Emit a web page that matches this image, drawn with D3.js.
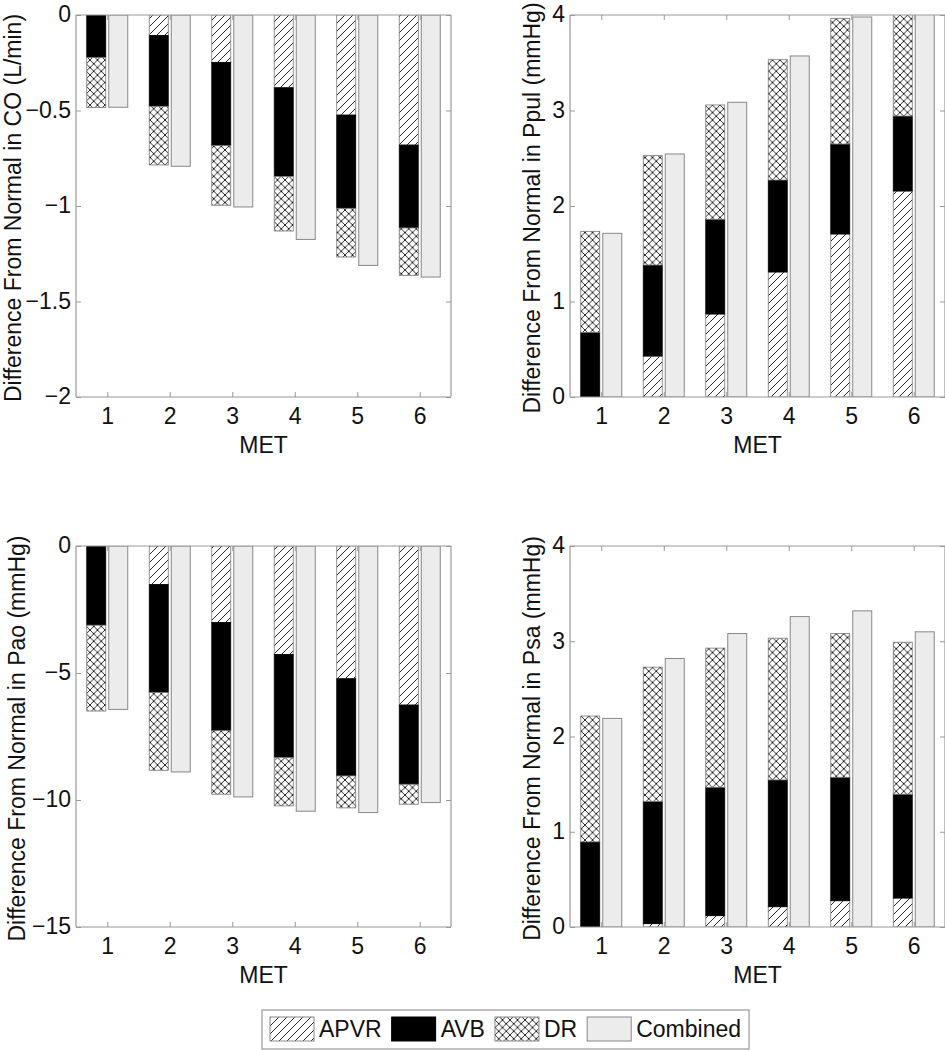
<!DOCTYPE html>
<html>
<head>
<meta charset="utf-8">
<script src="https://cdn.jsdelivr.net/npm/d3@7"></script>
<style>
  html, body { margin: 0; padding: 0; background: #fff; }
  svg { display: block; font-family: "Liberation Sans", Arial, Helvetica, sans-serif; }
</style>
</head>
<body>
<svg id="chart" width="945" height="1050"></svg>
<script>
// ---- Data ----
const categories = [1, 2, 3, 4, 5, 6];
const seriesNames = ["APVR", "AVB", "DR", "Combined"];

// CO (L/min)
const coAPVR = [0, -0.108, -0.248, -0.381, -0.524, -0.681];
const coAVB  = [-0.223, -0.370, -0.436, -0.464, -0.488, -0.434];
const coDR   = [-0.262, -0.307, -0.312, -0.286, -0.255, -0.248];
const coComb = [-0.483, -0.792, -1.005, -1.175, -1.311, -1.372];
const coTicks = [0, -0.5, -1, -1.5, -2];

// Ppul (mmHg)
const ppAPVR = [0, 0.429, 0.869, 1.309, 1.707, 2.157];
const ppAVB  = [0.677, 0.953, 0.992, 0.963, 0.942, 0.785];
const ppDR   = [1.058, 1.145, 1.197, 1.260, 1.316, 1.350];
const ppComb = [1.714, 2.545, 3.086, 3.571, 3.979, 4.330];
const ppTicks = [0, 1, 2, 3, 4];

// Pao (mmHg)
const paAPVR = [0, -1.520, -3.013, -4.271, -5.227, -6.262];
const paAVB  = [-3.118, -4.245, -4.258, -4.061, -3.826, -3.118];
const paDR   = [-3.380, -3.065, -2.502, -1.900, -1.258, -0.786];
const paComb = [-6.433, -8.896, -9.878, -10.441, -10.494, -10.101];
const paTicks = [0, -5, -10, -15];

// Psa (mmHg)
const psAPVR = [0, 0.035, 0.119, 0.213, 0.276, 0.304];
const psAVB  = [0.894, 1.282, 1.348, 1.331, 1.296, 1.090];
const psDR   = [1.321, 1.411, 1.461, 1.488, 1.509, 1.596];
const psComb = [2.190, 2.819, 3.081, 3.259, 3.319, 3.099];
const psTicks = [0, 1, 2, 3, 4];

const panels = [
  { label: "Difference From Normal in CO (L/min)", domain: [-2, 0], ticks: coTicks,
    apvr: coAPVR, avb: coAVB, dr: coDR, comb: coComb,
    left: 76, right: 451, top: 15, bottom: 397, labelX: 21 },
  { label: "Difference From Normal in Ppul (mmHg)", domain: [0, 4], ticks: ppTicks,
    apvr: ppAPVR, avb: ppAVB, dr: ppDR, comb: ppComb,
    left: 570, right: 945, top: 15, bottom: 397, labelX: 540 },
  { label: "Difference From Normal in Pao (mmHg)", domain: [-15, 0], ticks: paTicks,
    apvr: paAPVR, avb: paAVB, dr: paDR, comb: paComb,
    left: 76, right: 451, top: 546, bottom: 927, labelX: 25 },
  { label: "Difference From Normal in Psa (mmHg)", domain: [0, 4], ticks: psTicks,
    apvr: psAPVR, avb: psAVB, dr: psDR, comb: psComb,
    left: 570, right: 945, top: 546, bottom: 927, labelX: 540 }
];

const svg = d3.select("#chart");
const defs = svg.append("defs");

// hatch patterns
const diag = defs.append("pattern").attr("id", "diag")
  .attr("patternUnits", "userSpaceOnUse").attr("width", 8).attr("height", 8);
diag.append("rect").attr("width", 8).attr("height", 8).attr("fill", "#fff");
diag.append("path").attr("d", "M-2,2 L2,-2 M0,8 L8,0 M6,10 L10,6")
  .attr("stroke", "#111").attr("stroke-width", 0.9);

const cross = defs.append("pattern").attr("id", "cross")
  .attr("patternUnits", "userSpaceOnUse").attr("width", 7.5).attr("height", 7.5);
cross.append("rect").attr("width", 7.5).attr("height", 7.5).attr("fill", "#fff");
cross.append("path").attr("d", "M0,0 L7.5,7.5 M0,7.5 L7.5,0")
  .attr("stroke", "#111").attr("stroke-width", 0.9);

const fills = { APVR: "url(#diag)", AVB: "#000", DR: "url(#cross)", Combined: "#ececec" };

const FONT = 23;
const axisColor = "#999";
const barW = 19;

panels.forEach((p, i) => {
  const x = d3.scaleLinear().domain([0.5, 6.5]).range([p.left, p.right]);
  const y = d3.scaleLinear().domain(p.domain).range([p.bottom, p.top]);
  const g = svg.append("g");

  const clipId = "clip" + i;
  defs.append("clipPath").attr("id", clipId).append("rect")
    .attr("x", p.left).attr("y", p.top)
    .attr("width", p.right - p.left).attr("height", p.bottom - p.top);

  const bars = g.append("g").attr("clip-path", `url(#${clipId})`);

  // stacked segments
  const segs = [];
  categories.forEach((c, j) => {
    let base = 0;
    [["APVR", p.apvr[j]], ["AVB", p.avb[j]], ["DR", p.dr[j]]].forEach(([name, v]) => {
      const top = base + v;
      if (Math.abs(v) > 1e-9) segs.push({ c, name, y0: base, y1: top });
      base = top;
    });
  });
  bars.selectAll("rect.seg").data(segs).join("rect")
    .attr("class", "seg")
    .attr("x", d => x(d.c) - barW - 1.5)
    .attr("width", barW)
    .attr("y", d => Math.min(y(d.y0), y(d.y1)))
    .attr("height", d => Math.abs(y(d.y0) - y(d.y1)))
    .attr("fill", d => fills[d.name])
    .attr("stroke", d => d.name === "AVB" ? "#000" : "#777")
    .attr("stroke-width", 0.8);

  // combined bars
  bars.selectAll("rect.comb").data(categories.map((c, j) => ({ c, v: p.comb[j] }))).join("rect")
    .attr("class", "comb")
    .attr("x", d => x(d.c) + 1.5)
    .attr("width", barW)
    .attr("y", d => Math.min(y(0), y(d.v)))
    .attr("height", d => Math.abs(y(0) - y(d.v)))
    .attr("fill", fills.Combined)
    .attr("stroke", "#888")
    .attr("stroke-width", 1);

  // axes
  const axL = g.append("g").attr("transform", `translate(${p.left},0)`)
    .call(d3.axisLeft(y).tickValues(p.ticks).tickSize(-5).tickPadding(5).tickFormat(d3.format("")));
  const axR = g.append("g").attr("transform", `translate(${p.right},0)`)
    .call(d3.axisRight(y).tickValues(p.ticks).tickSize(-5).tickFormat(""));
  const axB = g.append("g").attr("transform", `translate(0,${p.bottom})`)
    .call(d3.axisBottom(x).tickValues(categories).tickSize(-5).tickFormat(d3.format("d")));
  const axT = g.append("g").attr("transform", `translate(0,${p.top})`)
    .call(d3.axisTop(x).tickValues(categories).tickSize(-5).tickFormat(""));

  [axL, axR, axB, axT].forEach(a => {
    a.select(".domain").attr("stroke", axisColor).attr("stroke-width", 1.2);
    a.selectAll(".tick line").attr("stroke", axisColor);
    a.selectAll("text").attr("font-size", FONT).attr("fill", "#111")
      .attr("font-family", '"Liberation Sans", Arial, Helvetica, sans-serif');
  });
  axB.selectAll(".tick text").attr("y", 27).attr("dy", 0);
  axL.selectAll(".tick text").attr("dy", "0.3em");
  // box lines without outer ticks
  axL.select(".domain").attr("d", `M0,${p.top}V${p.bottom}`);
  axR.select(".domain").attr("d", `M0,${p.top}V${p.bottom}`);
  axB.select(".domain").attr("d", `M${p.left},0H${p.right}`);
  axT.select(".domain").attr("d", `M${p.left},0H${p.right}`);

  // labels
  g.append("text")
    .attr("transform", `translate(${p.labelX},${(p.top + p.bottom) / 2 + 2}) rotate(-90)`)
    .attr("text-anchor", "middle")
    .attr("font-size", FONT).attr("fill", "#111")
    .text(p.label);
  g.append("text")
    .attr("x", (p.left + p.right) / 2)
    .attr("y", p.bottom + 56)
    .attr("text-anchor", "middle")
    .attr("font-size", FONT).attr("fill", "#111")
    .text("MET");
});

// legend
const leg = svg.append("g");
const legBox = leg.append("rect").attr("x", 262).attr("y", 1010).attr("height", 39)
  .attr("fill", "#fff").attr("stroke", axisColor).attr("stroke-width", 1.2);
let lx = 270;
seriesNames.forEach((name, k) => {
  leg.append("rect").attr("x", lx).attr("y", 1017).attr("width", 44).attr("height", 24)
    .attr("fill", fills[name]).attr("stroke", name === "AVB" ? "#000" : "#888").attr("stroke-width", 1);
  lx += 44 + 5;
  const t = leg.append("text").attr("x", lx).attr("y", 1037)
    .attr("font-size", FONT).attr("fill", "#111").text(name);
  lx += t.node().getComputedTextLength() + (k < seriesNames.length - 1 ? 10 : 8);
});
legBox.attr("width", lx - 262);
</script>
</body>
</html>
